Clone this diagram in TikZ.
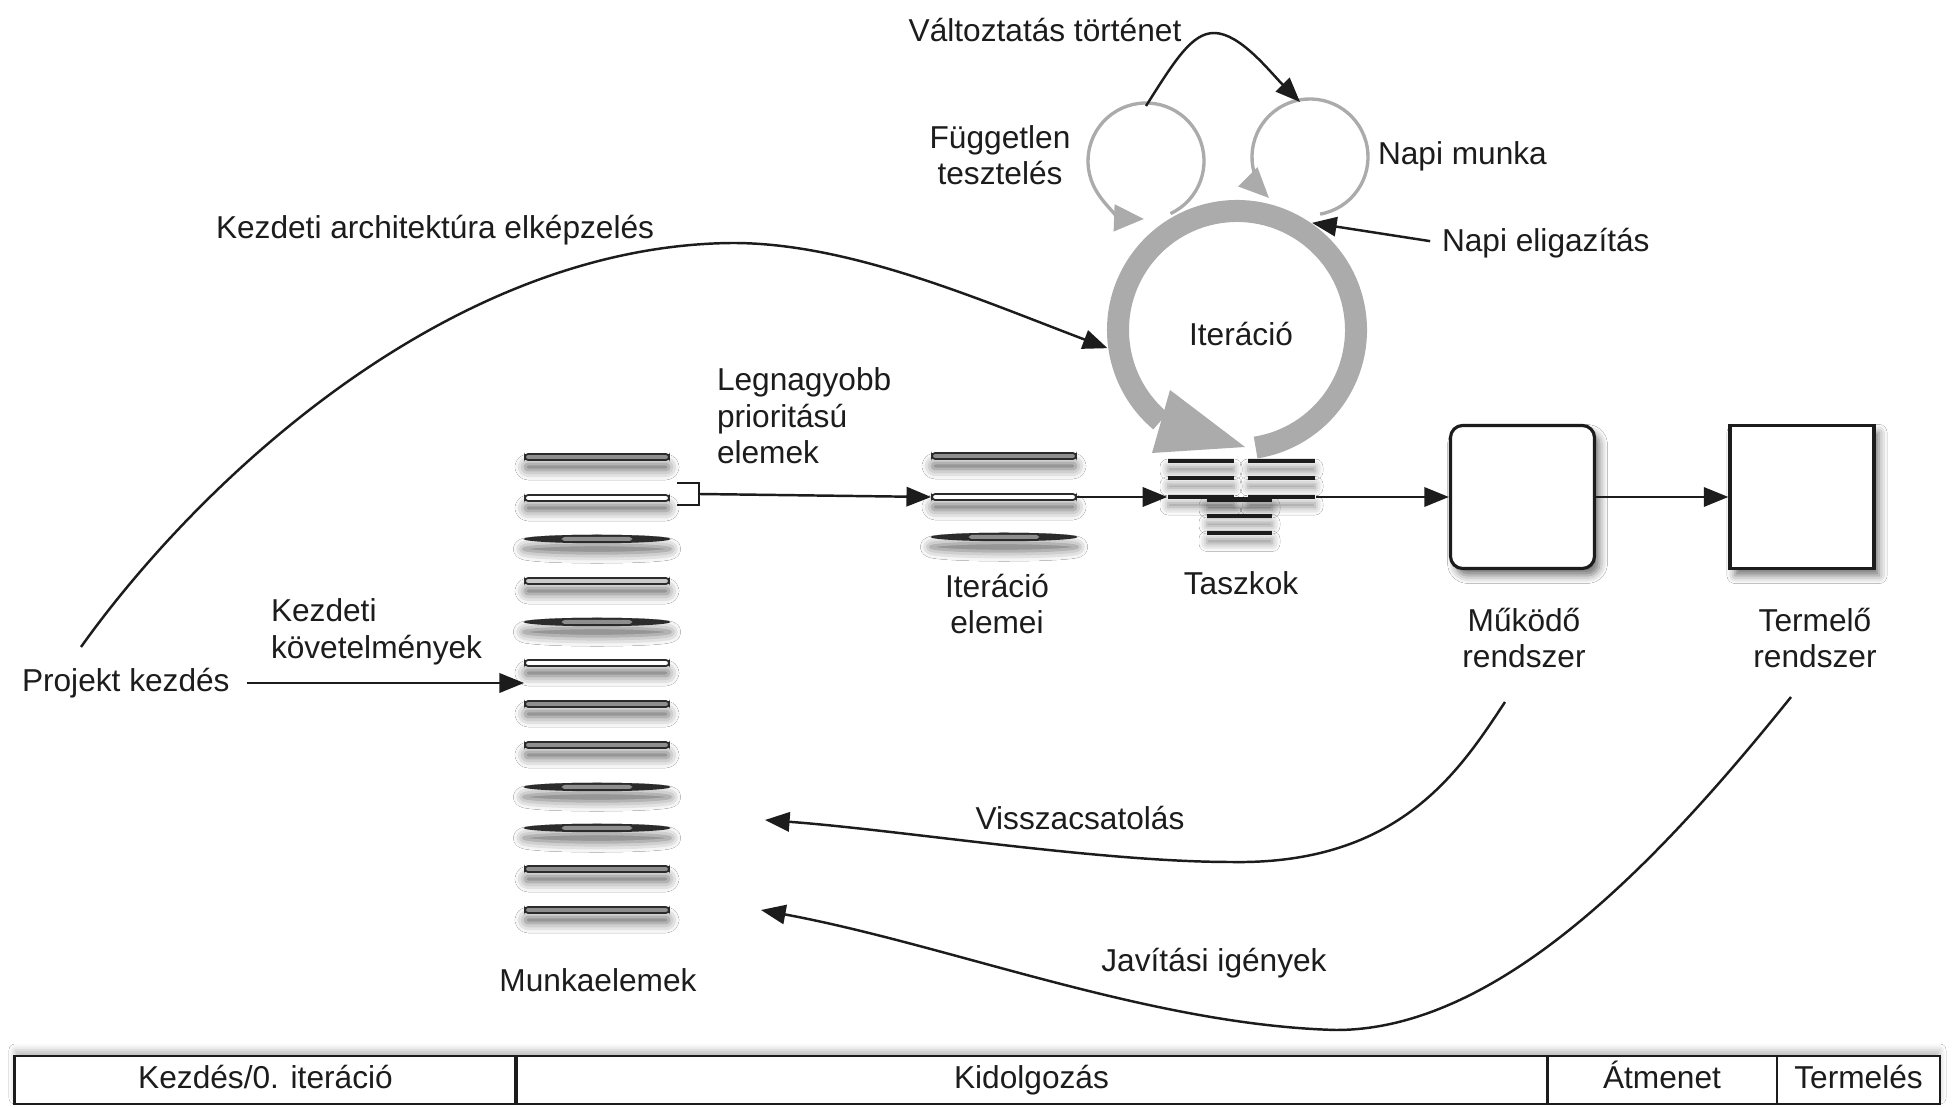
\documentclass[tikz,border=0pt]{standalone}
\usepackage{fontspec}
\setmainfont{Liberation Sans}
\usetikzlibrary{arrows.meta,shapes.geometric,shadows.blur}

\definecolor{ink}{HTML}{1C1C1C}
\definecolor{loopgray}{HTML}{ABABAB}
\definecolor{barline}{HTML}{2B2B2B}
\definecolor{bargray}{HTML}{8E8E8E}
\definecolor{barlight}{HTML}{C9C9C9}

\begin{document}
\begin{tikzpicture}[x=0.01cm, y=-0.01cm,
  font=\fontsize{9}{10.4}\selectfont,
  lbl/.style={text=ink, inner sep=0pt, outer sep=0pt, align=center},
  lbll/.style={lbl, align=left, anchor=west},
  conn/.style={draw=ink, line width=0.7pt, -{Triangle[length=7pt,width=5.5pt]}},
  softshadow/.style={blur shadow={shadow xshift=0pt, shadow yshift=-0.1cm, shadow blur radius=0.1cm, shadow opacity=60}},
  itembar/.style={rectangle, rounded corners=0.9pt, draw=barline, line width=0.5pt, minimum width=1.44cm, minimum height=0.06cm, inner sep=0pt, softshadow},
  graybar/.style={itembar, fill=bargray},
  lightbar/.style={itembar, fill=barlight},
  whitebar/.style={itembar, fill=white},
  lensbar/.style={ellipse, fill=barline, minimum width=1.47cm, minimum height=0.085cm, inner sep=0pt, softshadow,
    path picture={\fill[bargray, rounded corners=0.8pt] ([xshift=-0.35cm,yshift=-0.02cm]path picture bounding box.center) rectangle ([xshift=0.35cm,yshift=0.02cm]path picture bounding box.center);}},
  taskline/.style={fill=ink, blur shadow={shadow xshift=0pt, shadow yshift=-0.08cm, shadow blur radius=0.08cm, shadow opacity=45}},
  sysbox/.style={draw=ink, line width=0.9pt, fill=white, minimum width=1.44cm, minimum height=1.43cm, inner sep=0pt,
    blur shadow={shadow xshift=0.05cm, shadow yshift=-0.07cm, shadow blur radius=0.08cm, shadow opacity=55}},
  loop/.style={draw=loopgray, line width=0.95pt, -{Triangle[length=8.5pt,width=7.5pt]}},
  phase/.style={draw=ink, line width=0.8pt, minimum height=0.48cm, inner sep=0pt, text=ink, text height=0.72em, text depth=0.22em},
]
\useasboundingbox (0,0) rectangle (1954,1107);
\fill[white] (0,0) rectangle (1954,1107);

% ---- work item backlog ----
\node[graybar]  (m1)  at (597,457) {};
\node[whitebar] (m2)  at (597,498) {};
\node[lensbar]  (m3)  at (597,539) {};
\node[lightbar] (m4)  at (597,581) {};
\node[lensbar]  (m5)  at (597,622) {};
\node[whitebar] (m6)  at (597,663) {};
\node[graybar]  (m7)  at (597,704) {};
\node[graybar]  (m8)  at (597,745) {};
\node[lensbar]  (m9)  at (597,787) {};
\node[lensbar]  (m10) at (597,828) {};
\node[graybar]  (m11) at (597,869) {};
\node[graybar]  (m12) at (597,910) {};
\node[lbl] (backlog) at (598,980) {Munkaelemek};

% ---- iteration items ----
\node[graybar]  (i1) at (1004,456) {};
\node[whitebar] (i2) at (1004,497) {};
\node[lensbar]  (i3) at (1004,537) {};
\node[lbl] (itlbl) at (997,604) {Iteráció\\elemei};

% ---- tasks ----
\node[minimum width=1.47cm, minimum height=0.74cm, inner sep=0pt] (tasks) at (1241.5,497) {};
\fill[taskline] (1168,459) rectangle (1234,463.5);
\fill[taskline] (1248,459) rectangle (1315,463.5);
\fill[taskline] (1168,476.5) rectangle (1234,480);
\fill[taskline] (1248,476.5) rectangle (1315,480);
\fill[taskline] (1168,495) rectangle (1234,499);
\fill[taskline] (1248,495) rectangle (1315,499);
\fill[taskline] (1207,497.5) rectangle (1272,502);
\fill[taskline] (1207,514.5) rectangle (1272,518);
\fill[taskline] (1207,531) rectangle (1272,535.5);
\node[lbl] (tasklbl) at (1241,583) {Taszkok};

% ---- systems ----
\node[sysbox, rounded corners=3.5pt] (work) at (1522.5,497) {};
\node[sysbox] (prod) at (1802,497) {};
\node[lbl] (worklbl) at (1524,638) {Működő\\rendszer};
\node[lbl] (prodlbl) at (1815,638) {Termelő\\rendszer};

% ---- daily loops ----
\draw[loop] ({1146+58*cos(65)},{161+58*sin(65)}) arc[start angle=65, end angle=-268, radius=58];
\draw[loop] ({1310+58*cos(80)},{157+58*sin(80)}) arc[start angle=80, end angle=-225, radius=58];
\node[lbl] (testlbl) at (1000,155) {Független\\tesztelés};
\node[lbll] (dailylbl) at (1378,156) {Napi munka};

% ---- iteration ring ----
\node[circle, minimum size=2.6cm, inner sep=0pt] (iter) at (1237,330) {};
\draw[loopgray, line width=0.22cm] ({1237+119*cos(81)},{330+119*sin(81)}) arc[start angle=81, end angle=-230, radius=119];
\fill[loopgray] (1170,390) -- (1245,447) -- (1152,453) -- cycle;
\node[lbl] (iterlbl) at (1241,334) {Iteráció};

% ---- change history ----
\node[lbl] (chg) at (1045,30) {Változtatás történet};
\coordinate (tltop) at (1146,106);
\coordinate (dltop) at (1300,102);
\draw[conn] (tltop) .. controls (1175,60) and (1192,33) .. (1214,33) .. controls (1240,33) and (1270,72) .. (dltop);

% ---- daily briefing ----
\node[lbll] (brief) at (1442,243) {Napi eligazítás};
\draw[conn, shorten <=0.12cm] (brief.west) -- (iter.55);

% ---- architecture envisioning ----
\node[lbll] (archlbl) at (216,230) {Kezdeti architektúra elképzelés};
\coordinate (archstart) at (81,647);
\draw[conn] (archstart) .. controls (200,480) and (450,245) .. (733,243) .. controls (850,243) and (980,300) .. (iter.188);

% ---- project start ----
\node[lbll] (proj) at (22,683) {Projekt kezdés};
\node[lbll] (reqlbl) at (271,632) {Kezdeti\\követelmények};
\draw[conn, shorten <=0.17cm] (proj.east) -- (proj.east -| m6.west);

% ---- main flow ----
\draw[draw=ink, line width=0.8pt] (677,483) -- (699,483) -- (699,505) -- (677,505);
\coordinate (pick) at (699,494);
\node[lbll] (prio) at (717,416) {Legnagyobb\\prioritású\\elemek};
\draw[conn] (pick) -- (i2.west);
\draw[conn] (i2.east) -- (tasks.west);
\draw[conn] (tasks.east) -- (work.west);
\draw[conn] (work.east) -- (prod.west);

% ---- feedback ----
\coordinate (fbstart) at (1505,702);
\coordinate (fbend) at (765,820);
\draw[conn] (fbstart) .. controls (1460,770) and (1400,865) .. (1231,862) .. controls (1100,862) and (900,830) .. (fbend);
\node[lbl] (fblbl) at (1080,818) {Visszacsatolás};

\coordinate (fixstart) at (1791,697);
\coordinate (fixend) at (761,910);
\draw[conn] (fixstart) .. controls (1660,860) and (1500,1030) .. (1336,1030) .. controls (1150,1025) and (950,945) .. (fixend);
\node[lbl] (fixlbl) at (1214,963) {Javítási igények};

% ---- phases ----
\path[fill=white, blur shadow={shadow xshift=0pt, shadow yshift=0.06cm, shadow blur radius=0.06cm, shadow opacity=25}] (15,1056) rectangle (1940,1104);
\node[phase, minimum width=5.01cm]  (p1) at (265.5,1080) {Kezdés/0. iteráció};
\node[phase, minimum width=10.31cm] (p2) at (1031.5,1080) {Kidolgozás};
\node[phase, minimum width=2.30cm]  (p3) at (1662,1080) {Átmenet};
\node[phase, minimum width=1.63cm]  (p4) at (1858.5,1080) {Termelés};
\end{tikzpicture}
\end{document}
